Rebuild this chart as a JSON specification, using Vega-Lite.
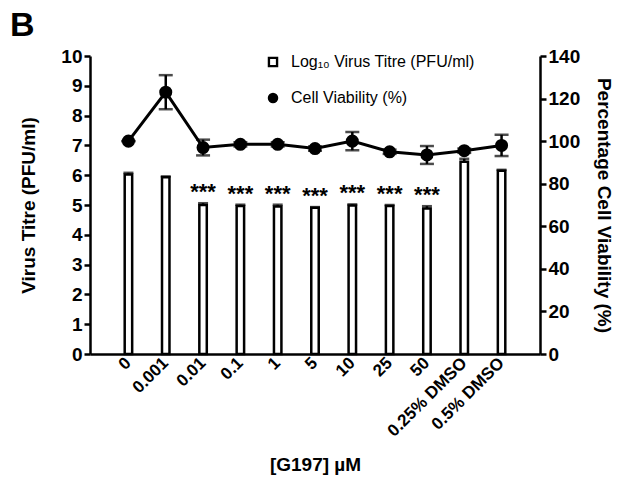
{
  "$schema": "https://vega.github.io/schema/vega-lite/v6.json",
  "width": 450,
  "height": 298,
  "autosize": "none",
  "padding": {"left": 90, "top": 56, "right": 85, "bottom": 150},
  "background": "white",
  "title": {"text": "B", "anchor": "start", "frame": "group", "dx": -80, "offset": 4, "font": "Liberation Sans", "fontSize": 34, "fontWeight": "bold", "color": "black"},
  "config": {
    "view": {"stroke": null},
    "axis": {"grid": false, "domainColor": "black", "domainWidth": 2.5, "tickColor": "black", "tickWidth": 2.5, "tickSize": 6, "labelFont": "Liberation Sans", "labelFontWeight": "bold", "labelColor": "black", "labelFontSize": 19, "labelOverlap": false, "titleFont": "Liberation Sans", "titleFontWeight": "bold", "titleFontSize": 19, "titleColor": "black"}
  },
  "data": {"values": [
    {"conc": "0", "titre": 6.02, "thi": 6.08, "sig": "", "viab": 100, "vlo": 100, "vhi": 100},
    {"conc": "0.001", "titre": 5.93, "thi": 5.96, "sig": "", "viab": 123, "vlo": 115, "vhi": 131},
    {"conc": "0.01", "titre": 5.0, "thi": 5.06, "sig": "***", "viab": 97, "vlo": 93.3, "vhi": 100.7},
    {"conc": "0.1", "titre": 4.97, "thi": 5.01, "sig": "***", "viab": 98.5, "vlo": 97.5, "vhi": 99.5},
    {"conc": "1", "titre": 4.95, "thi": 5.01, "sig": "***", "viab": 98.5, "vlo": 97.5, "vhi": 99.5},
    {"conc": "5", "titre": 4.91, "thi": 4.93, "sig": "***", "viab": 96.5, "vlo": 95.5, "vhi": 97.5},
    {"conc": "10", "titre": 4.98, "thi": 5.02, "sig": "***", "viab": 100, "vlo": 95.7, "vhi": 104.3},
    {"conc": "25", "titre": 4.97, "thi": 5.0, "sig": "***", "viab": 95, "vlo": 94, "vhi": 96},
    {"conc": "50", "titre": 4.88, "thi": 4.96, "sig": "***", "viab": 93.5, "vlo": 89.3, "vhi": 97.7},
    {"conc": "0.25% DMSO", "titre": 6.45, "thi": 6.55, "sig": "", "viab": 95.5, "vlo": 94.5, "vhi": 96.5},
    {"conc": "0.5% DMSO", "titre": 6.15, "thi": 6.18, "sig": "", "viab": 98, "vlo": 93, "vhi": 103}
  ]},
  "encoding": {
    "x": {"field": "conc", "type": "nominal", "sort": ["0", "0.001", "0.01", "0.1", "1", "5", "10", "25", "50", "0.25% DMSO", "0.5% DMSO"],
      "scale": {"paddingInner": 0.8, "paddingOuter": 0.93},
      "axis": {"title": "[G197] µM", "labelAngle": -45, "labelAlign": "right", "labelBaseline": "middle", "labelFontSize": 17, "ticks": false, "labelPadding": 6, "titlePadding": 16}}
  },
  "layer": [
    {
      "layer": [
        {"mark": {"type": "bar", "fill": "white", "stroke": "black", "strokeWidth": 2.5},
         "encoding": {"y": {"field": "titre", "type": "quantitative", "scale": {"domain": [0, 10], "nice": false}, "axis": {"orient": "left", "title": "Virus Titre (PFU/ml)", "values": [0,1,2,3,4,5,6,7,8,9,10], "tickCount": 11, "titlePadding": 22}}}},
        {"mark": {"type": "rule", "color": "black", "strokeWidth": 2.5},
         "encoding": {"y": {"field": "titre", "type": "quantitative"}, "y2": {"field": "thi"}}},
        {"mark": {"type": "tick", "color": "black", "thickness": 2.5, "size": 10},
         "encoding": {"y": {"field": "thi", "type": "quantitative"}}},
        {"mark": {"type": "text", "font": "Liberation Sans", "fontSize": 22, "fontWeight": "bold", "baseline": "alphabetic", "dy": -4, "color": "black"},
         "encoding": {"y": {"field": "thi", "type": "quantitative"}, "text": {"field": "sig"}}}
      ]
    },
    {
      "layer": [
        {"mark": {"type": "line", "color": "black", "strokeWidth": 3},
         "encoding": {"y": {"field": "viab", "type": "quantitative", "scale": {"domain": [0, 140], "nice": false}, "axis": {"orient": "right", "title": "Percentage Cell Viability (%)", "values": [0,20,40,60,80,100,120,140], "tickCount": 8, "titlePadding": 14}}}},
        {"mark": {"type": "rule", "color": "black", "strokeWidth": 2.5},
         "encoding": {"y": {"field": "vlo", "type": "quantitative"}, "y2": {"field": "vhi"}}},
        {"mark": {"type": "tick", "color": "black", "thickness": 2.5, "size": 14},
         "encoding": {"y": {"field": "vlo", "type": "quantitative"}}},
        {"mark": {"type": "tick", "color": "black", "thickness": 2.5, "size": 14},
         "encoding": {"y": {"field": "vhi", "type": "quantitative"}}},
        {"mark": {"type": "point", "filled": true, "size": 170, "opacity": 1},
         "encoding": {
           "y": {"field": "viab", "type": "quantitative"},
           "fill": {"datum": "Cell Viability (%)", "type": "nominal",
             "scale": {"domain": ["Log₁₀ Virus Titre (PFU/ml)", "Cell Viability (%)"], "range": ["black", "black"]},
             "legend": {"title": null, "orient": "none", "legendX": 175, "legendY": -2, "labelFont": "Liberation Sans", "labelFontSize": 16, "labelColor": "black", "labelLimit": 0, "rowPadding": 20, "symbolSize": 110, "labelOffset": 10, "symbolStrokeWidth": 0}},
           "shape": {"datum": "Cell Viability (%)", "type": "nominal",
             "scale": {"domain": ["Log₁₀ Virus Titre (PFU/ml)", "Cell Viability (%)"], "range": ["M-1,-1H1V1H-1Z M-0.55,-0.55V0.55H0.55V-0.55Z", "circle"]},
             "legend": {"title": null, "orient": "none", "legendX": 175, "legendY": -2, "labelFont": "Liberation Sans", "labelFontSize": 16, "labelColor": "black", "labelLimit": 0, "rowPadding": 20, "symbolSize": 110, "labelOffset": 10, "symbolStrokeWidth": 0}}
         }}
      ]
    }
  ],
  "resolve": {"scale": {"y": "independent"}}
}
